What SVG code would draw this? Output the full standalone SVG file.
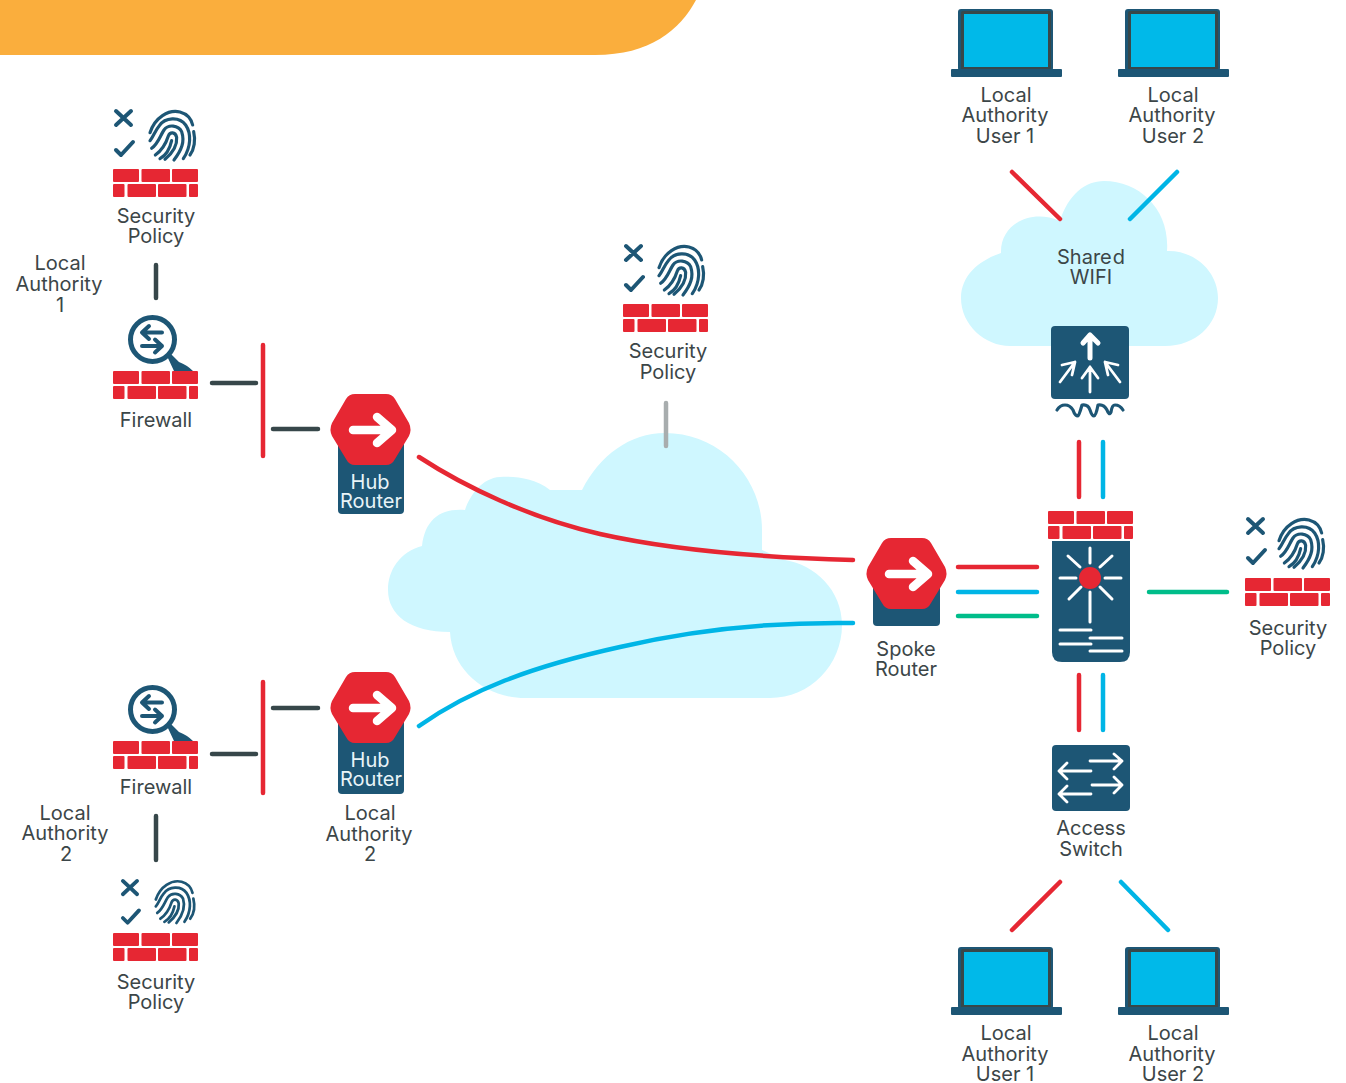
<svg xmlns="http://www.w3.org/2000/svg" width="1346" height="1083" viewBox="0 0 1346 1083">
<style>
text{font-family:"Inter","Liberation Sans",sans-serif;font-size:20px;fill:#3c4648;text-anchor:middle}
text.w{fill:#e8f4f8}
.c{fill:none;stroke-width:4.500;stroke-linecap:round}
.r{stroke:#e62733}.b{stroke:#00b5e6}.g{stroke:#00bd8a}.k{stroke:#37474a}.y{stroke:#a8adae}
.navy{fill:#1d5675}.red{fill:#e62733}
.ws{fill:none;stroke:#fff;stroke-linecap:round;stroke-linejoin:round}
.ns{fill:none;stroke:#1d5675;stroke-linecap:round;stroke-linejoin:round}
.cl{fill:#cff7ff}
</style>
<defs>
<g id="bricks" class="red">
<rect x="0" y="0" width="26" height="13" rx="1"/><rect x="28.500" y="0" width="28.500" height="13" rx="1"/><rect x="59" y="0" width="26" height="13" rx="1"/>
<rect x="0" y="15" width="11.500" height="13" rx="1"/><rect x="14.500" y="15" width="28.500" height="13" rx="1"/><rect x="45" y="15" width="28.500" height="13" rx="1"/><rect x="76" y="15" width="9" height="13" rx="1"/>
</g>
<path id="marks" class="ns" stroke-width="4" d="M3 1L18 15M18 1L3 15M3 40L8 45L20 32"/>
<g id="print" class="ns" stroke-width="9.500" transform="translate(-13 -10) scale(.3333)">
<path d="M150 98C165 52 205 28 240 36C262 42 274 58 278 75"/>
<path d="M281 95C287 120 283 148 270 165"/>
<path d="M150 122C160 110 165 92 178 77C195 52 238 48 257 75C274 100 274 140 250 176"/>
<path d="M155 145C175 130 180 108 192 90C205 72 235 75 245 95C255 125 245 150 222 180"/>
<path d="M166 165C190 148 198 130 205 108C210 95 226 95 230 112C232 135 222 155 195 178"/>
<path d="M180 176C200 165 210 145 215 122"/>
</g>
<g id="fw">
<circle class="ns" cx="39.500" cy="-31.500" r="22" stroke-width="5"/>
<path class="navy" d="M54 -15L57 -18L66 -9Q74 -6 80 0H61Z"/>
<path class="ns" stroke-width="4" d="M29 -38.500H49M36 -45L29 -38.500L36 -32M29 -25H49M42 -31.500L49 -25L42 -18.500"/>
<use href="#bricks"/>
</g>
<g id="hex">
<path class="red" d="M24 0H55Q61 0 64 5L78 29Q81 35.500 78 42L64 65Q61 71 55 71H24Q18 71 15 65L1 42Q-2 35.500 1 29L15 5Q18 0 24 0Z"/>
<path class="ws" stroke-width="8.500" d="M22 36H60M46 23L61 36L46 49"/>
</g>
<g id="laptop">
<rect x="7" y="9" width="95" height="62" rx="3" class="navy"/>
<rect x="10" y="11" width="90" height="60" rx="2" fill="#37474a"/>
<rect x="13" y="14" width="84" height="53" fill="#00b9e9"/>
<rect x="0" y="69" width="111" height="8" rx="1" class="navy"/>
</g>
</defs>
<g id="banner"><path fill="#faae3d" d="M0 0H696C680 30 650 55 595 55H0Z"/></g>
<g id="cloud-main"><path class="cl" d="M525 698H770C810 698 842 665 842 625C842 590 815 565 785 560L762 550V530C762 478 720 433 665 433C630 433 600 455 582 490L550 490C535 478 515 476 500 477C482 478 470 495 465 510C440 508 425 520 422 546C400 552 388 570 388 590C388 615 410 632 450 632C452 670 485 698 525 698Z"/></g>
<g id="cloud-wifi"><path class="cl" d="M1010 346H1165C1195 346 1218 325 1218 298C1218 272 1195 250 1167 251C1170 210 1140 181 1104 181C1085 181 1068 195 1060 221C1030 208 1000 225 1001 253C980 260 961 275 961 298C961 325 985 346 1010 346Z"/></g>
<g id="connectors">
<path class="c k" d="M156 265V298M212 383H256M273 429H318M212 754H256M273 708H318M156 816V860"/>
<path class="c r" d="M263 345V456M263 682V793"/>
<path class="c y" d="M666 403V446"/>
<path class="c r" d="M419 457C465 487 530 518 600 534C680 552 780 558 853 560"/>
<path class="c b" d="M419 726C470 690 530 667 620 647C700 628 780 622 853 623"/>
<path class="c r" d="M958 567H1037"/><path class="c b" d="M958 592H1037"/><path class="c g" d="M958 616H1037"/>
<path class="c g" d="M1149 592H1227"/>
<path class="c r" d="M1079 442V497M1079 675V730"/><path class="c b" d="M1103 442V497M1103 675V730"/>
<path class="c r" d="M1012 172L1060 219M1060 882L1012 930"/>
<path class="c b" d="M1177 172L1130 219M1121 882L1168 930"/>
</g>
<g id="policy-1"><g transform="translate(113 110)"><use href="#marks"/><use href="#print"/><use href="#bricks" y="59"/></g><text x="156" y="223">Security</text><text x="156" y="243">Policy</text></g>
<g id="label-la1"><text x="60" y="270">Local</text><text x="59" y="291">Authority</text><text x="60" y="312">1</text></g>
<g id="firewall-1"><use href="#fw" x="113" y="371"/><text x="156" y="427">Firewall</text></g>
<g id="hub-1"><rect class="navy" x="338" y="440" width="66" height="74" rx="4"/><use href="#hex" x="331" y="394"/><text class="w" x="370" y="489">Hub</text><text class="w" x="371" y="508">Router</text></g>
<g id="hub-2"><rect class="navy" x="338" y="718" width="66" height="76" rx="4"/><use href="#hex" x="331" y="672"/><text class="w" x="370" y="767">Hub</text><text class="w" x="371" y="786">Router</text><text x="370" y="820">Local</text><text x="369" y="841">Authority</text><text x="370" y="861">2</text></g>
<g id="firewall-2"><use href="#fw" x="113" y="741"/><text x="156" y="794">Firewall</text></g>
<g id="label-la2"><text x="65" y="820">Local</text><text x="65" y="840">Authority</text><text x="66" y="861">2</text></g>
<g id="policy-2"><use href="#marks" transform="translate(120 880) scale(.95)"/><use href="#print" transform="translate(124 880) scale(.86)"/><use href="#bricks" x="113" y="933"/><text x="156" y="989">Security</text><text x="156" y="1009">Policy</text></g>
<g id="policy-3"><g transform="translate(623 245)"><use href="#marks"/><use href="#print" x="-1"/><use href="#bricks" y="59"/></g><text x="668" y="358">Security</text><text x="668" y="379">Policy</text></g>
<g id="policy-4"><g transform="translate(1245 518)"><use href="#marks"/><use href="#print" x="-3"/><use href="#bricks" y="60"/></g><text x="1288" y="635">Security</text><text x="1288" y="655">Policy</text></g>
<g id="spoke"><rect class="navy" x="873" y="584" width="67" height="42" rx="4"/><use href="#hex" x="867" y="538"/><text x="906" y="656">Spoke</text><text x="906" y="676">Router</text></g>
<g id="ap">
<rect class="navy" x="1051" y="326" width="78" height="73" rx="4"/>
<path class="ws" stroke-width="5" d="M1090 358V338M1083 343L1090 335L1098 343"/>
<path class="ws" stroke-width="2.800" d="M1060 382L1075 362M1062 365L1075 362L1072 375M1090 392V367M1082 378L1090 367L1098 378M1120 382L1105 362M1118 365L1105 362L1108 375"/>
<path class="ns" stroke-width="3.200" d="M1057 410Q1060 405 1065 405Q1070 405 1073 410Q1075 416 1078 416Q1079 416 1082 405Q1088 404 1090 410Q1092 416 1094 416Q1096 416 1098 405Q1104 404 1107 410Q1109 416 1111 412Q1112 405 1115 405Q1120 405 1123 410"/>
</g>
<text x="1091" y="264">Share<tspan dx="1">d</tspan></text><text x="1091" y="284">WIFI</text>
<g id="fw-center">
<use href="#bricks" x="1048" y="511"/>
<path class="navy" d="M1052 541H1130V652Q1130 662 1120 662H1062Q1052 662 1052 652Z"/>
<path class="ws" stroke-width="3" d="M1090 548V563M1090 592V622M1060 578H1076M1105 578H1121M1068 556L1080 567M1112 556L1100 567M1069 599L1081 587M1112 599L1100 587M1060 630H1091M1090 638H1122M1060 644H1091M1090 651H1122"/>
<circle class="red" cx="1090" cy="578" r="11"/>
</g>
<g id="switch">
<rect class="navy" x="1052" y="745" width="78" height="66" rx="4"/>
<path class="ws" stroke-width="2.800" d="M1090 761H1122M1114 754L1122 761L1114 769M1092 785H1122M1114 777L1122 785L1114 793M1091 771H1059M1067 763L1059 771L1067 779M1091 794H1059M1067 786L1059 794L1067 802"/>
<text x="1091" y="835">Access</text><text x="1091" y="856">Switch</text>
</g>
<g id="laptop-1"><use href="#laptop" x="951"/><text x="1006" y="102">Local</text><text x="1005" y="122">Authority</text><text x="1005" y="143">User 1</text></g>
<g id="laptop-2"><use href="#laptop" x="1118"/><text x="1173" y="102">Local</text><text x="1172" y="122">Authority</text><text x="1173" y="143">User 2</text></g>
<g id="laptop-3"><use href="#laptop" x="951" y="938"/><text x="1006" y="1040">Local</text><text x="1005" y="1061">Authority</text><text x="1005" y="1081">User 1</text></g>
<g id="laptop-4"><use href="#laptop" x="1118" y="938"/><text x="1173" y="1040">Local</text><text x="1172" y="1061">Authority</text><text x="1173" y="1081">User 2</text></g>
</svg>
